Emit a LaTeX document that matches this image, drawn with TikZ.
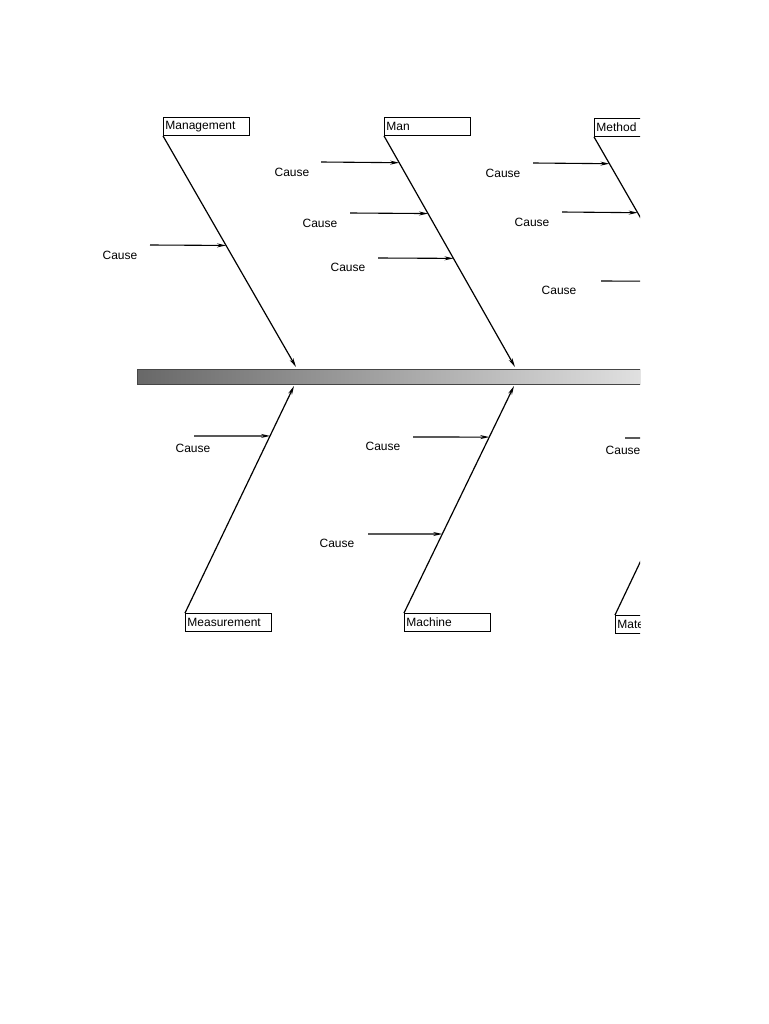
\documentclass[tikz,border=0pt]{standalone}
\usepackage{fontspec}
\setmainfont{Liberation Sans}
\usepackage{tikz}
\usetikzlibrary{positioning, arrows.meta, calc}
\usepackage{xcolor}
\definecolor{spinedark}{RGB}{104,104,104}
\definecolor{spinelight}{RGB}{224,224,224}
\definecolor{spineedge}{RGB}{70,70,70}

\tikzset{
  catbox/.style={draw, line width=0.9pt, anchor=north west, inner xsep=2pt, inner ysep=0pt,
                 minimum height=18pt, text width=82pt, align=left, font=\fontsize{12}{14}\selectfont},
  causelbl/.style={font=\fontsize{12}{14}\selectfont},
  bone/.style={line width=1.2pt, -{Stealth[length=9pt, width=4pt]}},
  causearrow/.style={line width=1.1pt, -{Stealth[length=9pt, width=4pt]}}
}

\begin{document}
\begin{tikzpicture}[x=1pt, y=-1pt]
  \useasboundingbox (0,0) rectangle (768,1024);
  \begin{scope}
    \clip (0,0) rectangle (640,1024);
    % spine
    \shadedraw[draw=spineedge, line width=1pt, left color=spinedark, right color=spinelight]
      (137,369) rectangle (640,384);

    % upper categories
    \node[catbox] (mgmt) at (163,117) {Management};
    \node[catbox] (man) at (384,117) {Man};
    \node[catbox] (method) at (594,118) {Method};
    \coordinate (mgmtTip) at (296,367);
    \coordinate (manTip) at (515,367);
    \coordinate (methodTip) at (727,368);
    \draw[bone] (mgmt.south west) -- (mgmtTip);
    \draw[bone] (man.south west) -- (manTip);
    \draw[bone] (method.south west) -- (methodTip);

    % lower categories
    \node[catbox] (meas) at (185,613) {Measurement};
    \node[catbox] (mach) at (404,613) {Machine};
    \node[catbox] (mat) at (615,615) {Material};
    \coordinate (measTip) at (294,386);
    \coordinate (machTip) at (514,386);
    \coordinate (matTip) at (724,386);
    \draw[bone] (meas.north west) -- (measTip);
    \draw[bone] (mach.north west) -- (machTip);
    \draw[bone] (mat.north west) -- (matTip);

    % causes on management
    \node[causelbl] (mgmtC1) at (120,255) {Cause};
    \coordinate (mgmtC1s) at (150,245);
    \draw[causearrow] (mgmtC1s) -- ($(mgmt.south west)!0.474!(mgmtTip)$);

    % causes on man
    \node[causelbl] (manC1) at (292,172) {Cause};
    \node[causelbl] (manC2) at (320,223) {Cause};
    \node[causelbl] (manC3) at (348,267) {Cause};
    \coordinate (manC1s) at (321,162);
    \coordinate (manC2s) at (350,213);
    \coordinate (manC3s) at (378,258);
    \draw[causearrow] (manC1s) -- ($(man.south west)!0.116!(manTip)$);
    \draw[causearrow] (manC2s) -- ($(man.south west)!0.336!(manTip)$);
    \draw[causearrow] (manC3s) -- ($(man.south west)!0.530!(manTip)$);

    % causes on method
    \node[causelbl] (methodC1) at (503,173) {Cause};
    \node[causelbl] (methodC2) at (532,222) {Cause};
    \node[causelbl] (methodC3) at (559,290) {Cause};
    \coordinate (methodC1s) at (533,163);
    \coordinate (methodC2s) at (562,212);
    \coordinate (methodC3s) at (601,281);
    \draw[causearrow] (methodC1s) -- ($(method.south west)!0.116!(methodTip)$);
    \draw[causearrow] (methodC2s) -- ($(method.south west)!0.328!(methodTip)$);
    \draw[causearrow] (methodC3s) -- ($(method.south west)!0.625!(methodTip)$);

    % causes on measurement
    \node[causelbl] (measC1) at (193,448) {Cause};
    \coordinate (measC1s) at (194,436);
    \draw[causearrow] (measC1s) -- ($(meas.north west)!0.780!(measTip)$);

    % causes on machine
    \node[causelbl] (machC1) at (383,446) {Cause};
    \node[causelbl] (machC2) at (337,543) {Cause};
    \coordinate (machC1s) at (413,437);
    \coordinate (machC2s) at (368,534);
    \draw[causearrow] (machC1s) -- ($(mach.north west)!0.775!(machTip)$);
    \draw[causearrow] (machC2s) -- ($(mach.north west)!0.348!(machTip)$);

    % causes on material
    \node[causelbl] (matC1) at (623,450) {Cause};
    \coordinate (matC1s) at (625,438);
    \draw[causearrow] (matC1s) -- ($(mat.north west)!0.773!(matTip)$);
  \end{scope}
\end{tikzpicture}
\end{document}
